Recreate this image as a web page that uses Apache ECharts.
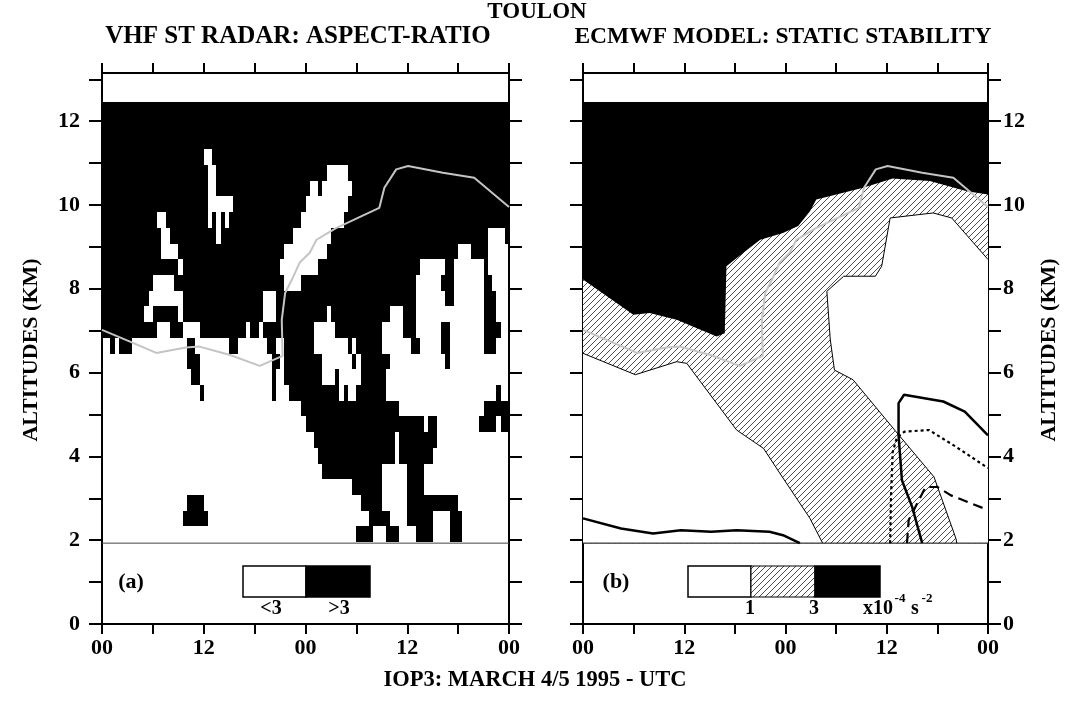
<!DOCTYPE html>
<html><head><meta charset="utf-8">
<script src="https://cdn.jsdelivr.net/npm/echarts@6/dist/echarts.min.js"></script>
<style>html,body{margin:0;padding:0;background:#fff}#c{width:1071px;height:701px}</style>
</head><body><div id="c"></div>
<script>
// ---------- DATA ----------
const xTickLabels = ['00', '12', '00', '12', '00'];      // every 12 h
const yTickLabels = ['0', '2', '4', '6', '8', '10', '12']; // every 2 km
const gateBase = 1.955;     // km, bottom of lowest radar gate
const gateStep = 0.375;     // km per gate
const profileStep = 0.5;    // hours per radar profile
const dataBottom = 1.93, dataTop = 12.455;

// VHF radar: for each gate (index 0 = lowest) runs of profiles [first,last] with aspect ratio > 3
const ratioAbove3 = [
  [[60,63],[67,69],[74,77],[82,84]],
  [[19,24],[63,67],[72,77],[82,84]],
  [[20,23],[61,65],[72,83]],
  [[59,65],[72,75]],
  [[52,65],[72,75]],
  [[51,68],[70,77]],
  [[50,68],[70,78]],
  [[48,75],[77,78],[89,92],[94,95]],
  [[47,69],[90,95]],
  [[23,23],[40,40],[44,55],[57,57],[60,66],[93,93]],
  [[21,22],[40,40],[43,51],[55,55],[61,66]],
  [[20,22],[40,41],[43,51],[59,59],[61,67],[81,81]],
  [[2,2],[4,6],[20,21],[30,31],[39,40],[43,49],[58,58],[60,65],[73,74],[80,81],[90,92]],
  [[0,12],[16,18],[23,33],[35,36],[38,49],[55,65],[71,73],[80,81],[90,93]],
  [[0,9],[12,17],[19,37],[41,52],[54,67],[71,73],[90,92]],
  [[0,10],[19,37],[41,73],[81,82],[90,92]],
  [[0,11],[17,42],[47,73],[80,82],[90,91]],
  [[0,17],[19,41],[51,74],[81,82],[90,90]],
  [[0,13],[18,42],[53,83],[87,90]],
  [[0,13],[16,26],[28,44],[54,90],[95,95]],
  [[0,12],[15,24],[26,26],[28,28],[30,46],[57,95]],
  [[0,24],[31,47],[58,95]],
  [[0,24],[27,48],[51,51],[59,95]],
  [[0,24],[27,52],[58,95]],
  [[0,23],[26,95]],
  [[0,95]],
  [[0,95]],
  [[0,95]]
];

// tropopause (grey line), [hour, km]
const tropopause = [[0,7.02],[3.3,6.74],[6.4,6.47],[9.9,6.6],[11.5,6.62],[15.1,6.42],[18.6,6.16],[21.3,6.4],[21.2,7.26],[21.6,7.9],[22.4,8.22],[23.3,8.62],[24.5,8.86],[25.3,9.17],[27.6,9.45],[32.7,9.93],[33.3,10.41],[34.7,10.85],[36.1,10.93],[40.2,10.77],[43.9,10.65],[48,9.95]];

// ECMWF static stability contours, [hour, km]
const n2Contour3 = [[0,8.22],[5.97,7.38],[7.9,7.42],[11.1,7.26],[15.85,6.86],[16.8,6.94],[17.0,8.54],[19.0,8.86],[21.0,9.17],[23.7,9.33],[25.5,9.5],[26.9,9.85],[27.65,10.13],[29.2,10.21],[33.2,10.41],[36.7,10.63],[41.1,10.57],[45.5,10.33],[48,10.25]];
const n2Contour1West = [[0,6.46],[6.2,5.95],[11.1,6.26],[12.3,6.22],[18.2,4.63],[21.4,4.19],[23.35,3.59],[26.9,2.52],[28.4,1.93]];
const n2Contour1EastTop = [[28.9,7.94],[30.9,8.30],[34.65,8.30],[35.4,8.54],[36.4,9.69],[41.5,9.81],[43.7,9.69],[48,8.70]];
const n2Contour1EastSide = [[28.9,7.94],[29.3,6.8],[29.8,6.06],[32.0,5.83],[37.1,4.59],[41.6,3.51],[44.2,2.04],[44.3,1.93]];
const lowContourWest = [[0,2.52],[4.5,2.28],[8.3,2.16],[11.6,2.24],[15.2,2.2],[18.2,2.24],[22.1,2.2],[23.7,2.12],[25.7,1.93]];
const solidContourEast = [[40.2,1.93],[39.0,2.8],[37.8,3.43],[37.4,4.5],[37.4,5.27],[38.05,5.47],[42.7,5.31],[45.25,5.07],[48,4.5]];
const dottedContourEast = [[36.4,1.93],[36.5,3.0],[36.7,4.1],[37.2,4.45],[38.1,4.59],[41.0,4.63],[44.2,4.23],[48,3.72]];
const dashedContourEast = [[38.4,1.93],[38.6,2.48],[40.6,3.27],[42.0,3.27],[43.6,3.07],[48,2.72]];

// ---------- CHART ----------
const FONT = "'Liberation Serif','Times New Roman',serif";
const hatchCanvas = document.createElement('canvas');
hatchCanvas.width = 6; hatchCanvas.height = 6;
(function(){
  const c = hatchCanvas.getContext('2d');
  c.fillStyle = '#fff'; c.fillRect(0,0,6,6);
  c.strokeStyle = '#3a3a3a'; c.lineWidth = 0.9;
  c.beginPath();
  c.moveTo(-1,1); c.lineTo(1,-1);
  c.moveTo(0,6); c.lineTo(6,0);
  c.moveTo(5,7); c.lineTo(7,5);
  c.stroke();
})();
const hatch = {image: hatchCanvas, repeat: 'repeat'};

const cells = [];
ratioAbove3.forEach((runs, r) => runs.forEach(([a, b]) => {
  cells.push([a * profileStep, (b + 1) * profileStep, gateBase + r * gateStep, gateBase + (r + 1) * gateStep]);
}));

const yTickValues = [0,1,2,3,4,5,6,7,8,9,10,11,12,13];
const yLabelValues = [0,2,4,6,8,10,12];

function xAxisCfg(gridIndex, position, showLabel) {
  return {type: 'value', gridIndex, position, min: 0, max: 48, interval: 6,
    axisLine: {show: true, onZero: false, lineStyle: {color: '#000', width: 2}},
    axisTick: {show: true, inside: false, length: 10, lineStyle: {color: '#000', width: 2}},
    axisLabel: {show: showLabel, margin: 13, color: '#000', fontFamily: FONT, fontWeight: 'bold', fontSize: 22,
      formatter: v => (v % 12 === 0 ? xTickLabels[v / 12] : '')},
    splitLine: {show: false}};
}
function yAxisCfg(gridIndex, position, showLabel, margin) {
  return {type: 'value', gridIndex, position, min: 0, max: 13.15,
    axisLine: {show: true, onZero: false, lineStyle: {color: '#000', width: 2}},
    axisTick: {show: true, inside: false, length: 13, customValues: yTickValues, lineStyle: {color: '#000', width: 2}},
    axisLabel: {show: showLabel, margin: margin, color: '#000', fontFamily: FONT, fontWeight: 'bold', fontSize: 22,
      customValues: yLabelValues,
      formatter: v => yTickLabels[Math.round(v) / 2]},
    splitLine: {show: false}};
}
function lineSeries(gi, data, color, width, type) {
  return {type: 'line', xAxisIndex: gi * 2, yAxisIndex: gi * 2, data, showSymbol: false, symbol: 'none',
    silent: true, animation: false, z: 5,
    lineStyle: {color, width, type: type || 'solid'}};
}
function polySeries(pts, fill, z) {
  return {type: 'custom', xAxisIndex: 2, yAxisIndex: 2, data: [pts[0]], silent: true, z, clip: true,
    renderItem: (params, api) => ({type: 'polygon', shape: {points: pts.map(p => api.coord(p))},
      style: {fill: fill, stroke: null}})};
}

const blackPoly = [[0, dataTop], [48, dataTop]].concat(n2Contour3.slice().reverse());
const westWhite = n2Contour1West.concat([[0, dataBottom]]);
const eastWhite = n2Contour1EastTop.concat([[48, dataBottom]], n2Contour1EastSide.slice(1).reverse());
const fullArea = [[0, dataBottom], [48, dataBottom], [48, dataTop], [0, dataTop]];

const txt = (x, y, text, size, extra) => Object.assign({type: 'text', x, y, silent: true,
  style: {text, fill: '#000', font: `bold ${size}px ${FONT}`, textAlign: 'center', textVerticalAlign: 'middle', align: 'center', verticalAlign: 'middle'}}, extra || {});

const option = {
  animation: false,
  backgroundColor: '#fff',
  grid: [
    {left: 102, top: 73, width: 407, height: 551},
    {left: 583, top: 73, width: 405, height: 551}
  ],
  xAxis: [xAxisCfg(0, 'bottom', true), xAxisCfg(0, 'top', false), xAxisCfg(1, 'bottom', true), xAxisCfg(1, 'top', false)],
  yAxis: [yAxisCfg(0, 'left', true, 22), yAxisCfg(0, 'right', false, 8), yAxisCfg(1, 'left', false, 8), yAxisCfg(1, 'right', true, 15)],
  series: [
    {type: 'custom', xAxisIndex: 0, yAxisIndex: 0, data: cells, encode: {x: [0, 1], y: [2, 3]}, silent: true, clip: true, z: 2,
      renderItem: (params, api) => {
        const p0 = api.coord([api.value(0), api.value(3)]);
        const p1 = api.coord([api.value(1), api.value(2)]);
        const x0 = Math.round(p0[0]), y0 = Math.round(p0[1]), x1 = Math.round(p1[0]), y1 = Math.round(p1[1]);
        return {type: 'rect', shape: {x: x0, y: y0, width: x1 - x0, height: y1 - y0}, style: {fill: '#000'}};
      }},
    lineSeries(0, tropopause, '#c4c4c4', 2),
    lineSeries(0, [[0, dataBottom], [48, dataBottom]], '#444', 1),
    polySeries(fullArea, hatch, 1),
    polySeries(blackPoly, '#000', 2),
    polySeries(westWhite, '#fff', 3),
    polySeries(eastWhite, '#fff', 3),
    lineSeries(1, n2Contour1West, '#000', 1),
    lineSeries(1, n2Contour1EastTop, '#000', 1),
    lineSeries(1, n2Contour1EastSide, '#000', 1),
    lineSeries(1, lowContourWest, '#000', 2.5),
    lineSeries(1, solidContourEast, '#000', 2.5),
    lineSeries(1, dottedContourEast, '#000', 2.2, [3, 3]),
    lineSeries(1, dashedContourEast, '#000', 2.2, [10, 6]),
    lineSeries(1, tropopause, '#c4c4c4', 2),
    lineSeries(1, [[0, dataBottom], [48, dataBottom]], '#000', 1)
  ],
  graphic: [
    txt(537, 12, 'TOULON', 23),
    txt(298, 37, 'VHF ST RADAR: ASPECT-RATIO', 25),
    txt(783, 37, 'ECMWF MODEL: STATIC STABILITY', 23.5),
    txt(535, 680, 'IOP3: MARCH 4/5 1995 - UTC', 22.5),
    txt(31, 350, 'ALTITUDES (KM)', 22, {rotation: Math.PI / 2}),
    txt(1049, 350, 'ALTITUDES (KM)', 22, {rotation: Math.PI / 2}),
    txt(131, 582, '(a)', 22),
    txt(616, 582, '(b)', 22),
    {type: 'rect', shape: {x: 243, y: 566, width: 63, height: 31}, style: {fill: '#fff', stroke: '#000', lineWidth: 1.5}},
    {type: 'rect', shape: {x: 306, y: 566, width: 64, height: 31}, style: {fill: '#000', stroke: '#000', lineWidth: 1.5}},
    txt(271, 609, '<3', 20),
    txt(339, 609, '>3', 20),
    {type: 'rect', shape: {x: 688, y: 566, width: 63, height: 31}, style: {fill: '#fff', stroke: '#000', lineWidth: 1.5}},
    {type: 'rect', shape: {x: 751, y: 566, width: 64, height: 31}, style: {fill: hatch, stroke: '#000', lineWidth: 1}},
    {type: 'rect', shape: {x: 815, y: 566, width: 65, height: 31}, style: {fill: '#000', stroke: '#000', lineWidth: 1.5}},
    txt(750, 609, '1', 20),
    txt(814, 609, '3', 20),
    txt(878, 609, 'x10', 20),
    txt(900, 599, '-4', 13),
    txt(915, 609, 's', 20),
    txt(927, 599, '-2', 13)
  ]
};
echarts.init(document.getElementById('c'), null, {renderer: 'canvas'}).setOption(option);
</script>
</body></html>
